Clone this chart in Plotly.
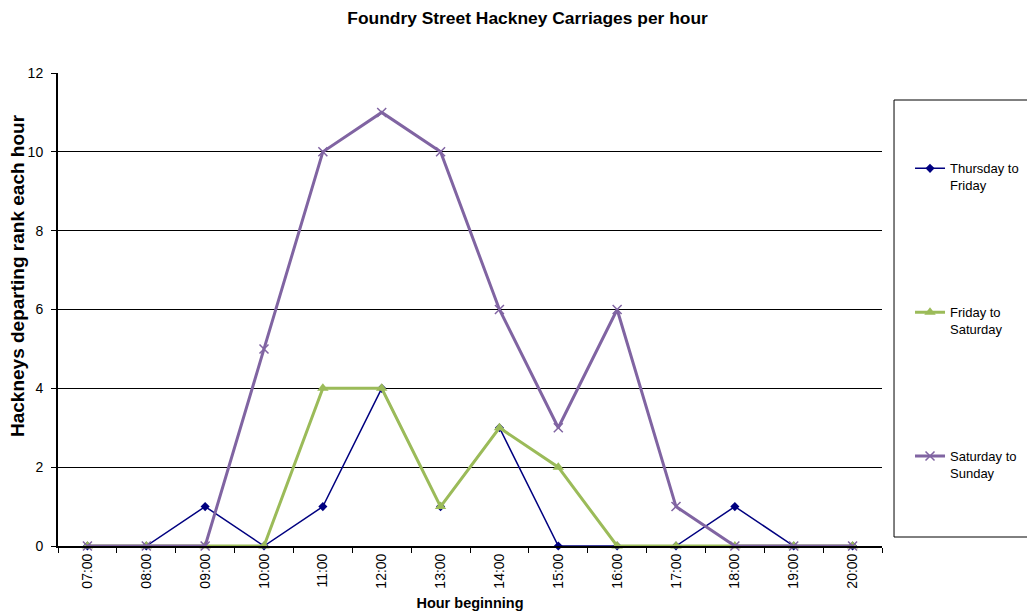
import plotly.graph_objects as go

hours = ["07:00", "08:00", "09:00", "10:00", "11:00", "12:00", "13:00",
         "14:00", "15:00", "16:00", "17:00", "18:00", "19:00", "20:00"]
thu_fri = [0, 0, 1, 0, 1, 4, 1, 3, 0, 0, 0, 1, 0, 0]
fri_sat = [0, 0, 0, 0, 4, 4, 1, 3, 2, 0, 0, 0, 0, 0]
sat_sun = [0, 0, 0, 5, 10, 11, 10, 6, 3, 6, 1, 0, 0, 0]

FONT = "Liberation Sans, Arial, sans-serif"

fig = go.Figure()
fig.add_trace(go.Scatter(
    x=hours, y=thu_fri, name="Thursday to<br>Friday", mode="lines+markers",
    line=dict(color="#000080", width=1.5),
    marker=dict(symbol="diamond", size=7, color="#000080"),
    cliponaxis=False, legendgroup="a"))
fig.add_trace(go.Scatter(
    x=hours, y=fri_sat, name="Friday to<br>Saturday", mode="lines+markers",
    line=dict(color="#9BBB59", width=3),
    marker=dict(symbol="triangle-up", size=10, color="#9BBB59"),
    cliponaxis=False, legendgroup="b"))
fig.add_trace(go.Scatter(
    x=hours, y=sat_sun, name="Saturday to<br>Sunday", mode="lines+markers",
    line=dict(color="#8064A2", width=3),
    marker=dict(symbol="x-thin", size=9, color="#8064A2",
                line=dict(color="#8064A2", width=1.5)),
    cliponaxis=False, legendgroup="c"))

fig.update_layout(
    width=1035, height=613,
    margin=dict(l=50, r=161, t=65, b=75),
    paper_bgcolor="white", plot_bgcolor="white",
    font=dict(family=FONT, size=13, color="#000"),
    title=dict(text="<b>Foundry Street Hackney Carriages per hour</b>",
               x=0.502, xanchor="center", y=(613 - 10) / 613, yanchor="middle",
               font=dict(size=17.4, family=FONT)),
    showlegend=True,
    legend=dict(x=1.034, xanchor="left", y=0.830, yanchor="top",
                tracegroupgap=107, bgcolor="rgba(0,0,0,0)", valign="top",
                font=dict(size=13, family=FONT), itemwidth=30),
    shapes=[dict(type="rect", xref="paper", yref="paper",
                 x0=1.0146, x1=1.25, y0=(546 - 537) / 473,
                 y1=(546 - 100) / 473,
                 line=dict(color="#000", width=1), fillcolor="rgba(0,0,0,0)",
                 layer="below")],
    annotations=[dict(text="<b>Hackneys departing rank each hour</b>",
                      xref="paper", yref="paper", x=(17 - 58) / 824,
                      y=(546 - 276) / 473, xanchor="center", yanchor="middle",
                      textangle=-90, showarrow=False,
                      font=dict(size=19, family=FONT))],
)

fig.update_xaxes(
    type="category", range=[-0.5, 13.5], tickangle=-90, tickson="boundaries",
    ticks="outside", ticklen=5, tickcolor="#000",
    showline=True, linecolor="#000", linewidth=2,
    showgrid=False, tickfont=dict(size=14, family=FONT),
    title=dict(text="<b>Hour beginning</b>", font=dict(size=14.5, family=FONT),
               standoff=10),
)
fig.update_yaxes(
    range=[0, 12], dtick=2, ticks="outside", ticklen=5, tickcolor="#000",
    showline=True, linecolor="#000", linewidth=2, ticklabelstandoff=5,
    showgrid=True, gridcolor="#000", gridwidth=1, zeroline=False,
    tickfont=dict(size=14, family=FONT),
)

fig.write_html("out.html")
